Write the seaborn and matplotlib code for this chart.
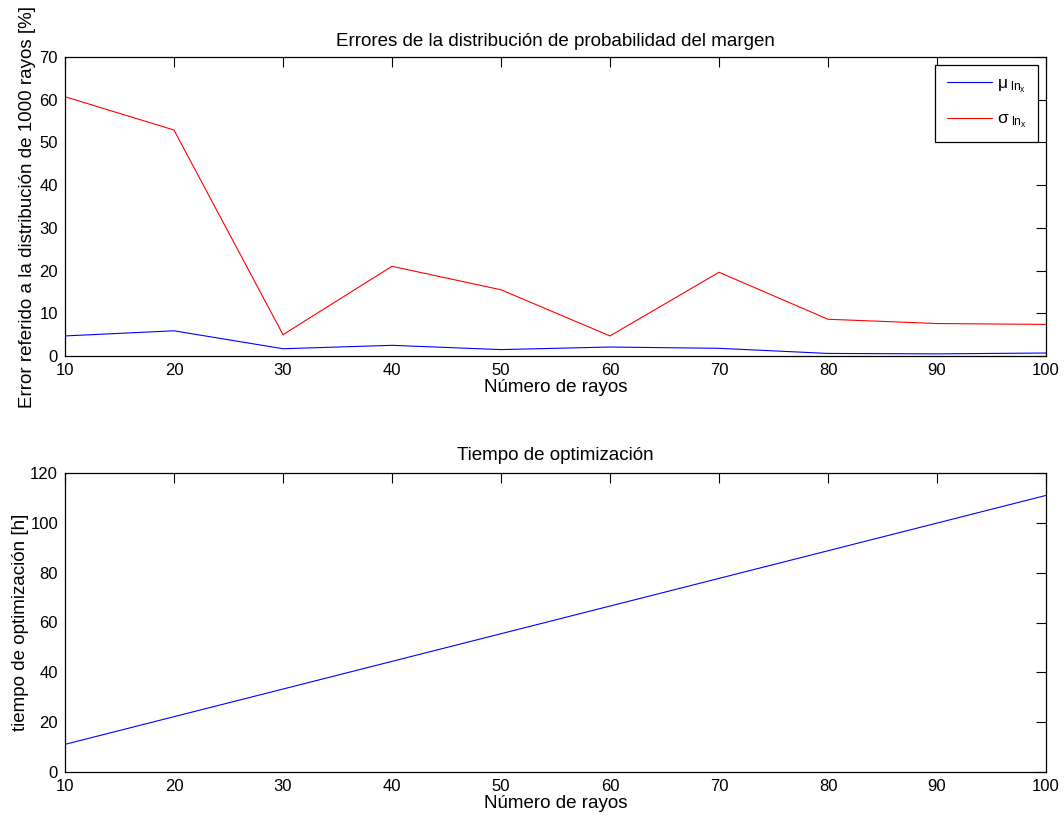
import pandas as pd
import matplotlib
matplotlib.use("Agg")
import matplotlib.pyplot as plt
import seaborn as sns

# Datos
rayos = [10, 20, 30, 40, 50, 60, 70, 80, 90, 100]
error_mu = [4.7, 5.9, 1.7, 2.5, 1.5, 2.1, 1.8, 0.6, 0.5, 0.7]
error_sigma = [60.7, 52.9, 5.0, 21.0, 15.5, 4.7, 19.6, 8.6, 7.6, 7.4]
tiempo = [11.1, 22.2, 33.3, 44.4, 55.5, 66.6, 77.7, 88.8, 99.9, 111.0]

sns.set_theme(style="white")
plt.rcParams['font.family'] = ['Liberation Sans', 'DejaVu Sans']
plt.rcParams['text.color'] = 'black'
plt.rcParams['axes.labelcolor'] = 'black'
plt.rcParams['mathtext.fontset'] = 'custom'
plt.rcParams['mathtext.rm'] = 'Liberation Sans'
plt.rcParams['mathtext.it'] = 'Liberation Sans'
plt.rcParams['mathtext.sf'] = 'Liberation Sans'

fig = plt.figure(figsize=(10.64, 8.18), dpi=100)
# posiciones en fracción de figura (px medidos en la referencia)
ax1 = fig.add_axes([65 / 1064, 1 - 356 / 818, 981 / 1064, 299 / 818])
ax2 = fig.add_axes([65 / 1064, 1 - 772 / 818, 981 / 1064, 299 / 818])

df_err = pd.DataFrame({'rayos': rayos, 'mu': error_mu, 'sigma': error_sigma})
sns.lineplot(data=df_err, x='rayos', y='mu', color='blue', lw=0.8, ax=ax1,
             label=r'$\mu_{\ \mathrm{ln}_{\mathrm{x}}}$')
sns.lineplot(data=df_err, x='rayos', y='sigma', color='red', lw=0.8, ax=ax1,
             label=r'$\sigma_{\ \mathrm{ln}_{\mathrm{x}}}$')

df_t = pd.DataFrame({'rayos': rayos, 'tiempo': tiempo})
sns.lineplot(data=df_t, x='rayos', y='tiempo', color='blue', lw=0.8, ax=ax2)

ax1.set_ylim(0, 70)
ax1.set_yticks(range(0, 71, 10))
ax2.set_ylim(0, 120)
ax2.set_yticks(range(0, 121, 20))

for ax in (ax1, ax2):
    ax.set_xlim(10, 100)
    ax.set_xticks(range(10, 101, 10))
    ax.tick_params(direction='in', top=True, right=True, length=7, width=0.8,
                   labelsize=12, colors='black', pad=5)
    for s in ax.spines.values():
        s.set_color('black')
        s.set_linewidth(0.9)
    ax.set_xlabel('Número de rayos', fontsize=13.5, labelpad=1)

ax1.set_title('Errores de la distribución de probabilidad del margen', fontsize=13.5, pad=8)
ax1.set_ylabel('Error referido a la distribución de 1000 rayos [%]', fontsize=13.5)
ax1.yaxis.set_label_coords(-0.03, 0.5)
ax2.set_title('Tiempo de optimización', fontsize=13.5, pad=9)
ax2.set_ylabel('tiempo de optimización [h]', fontsize=13.5)
ax2.yaxis.set_label_coords(-0.037, 0.5)

leg = ax1.legend(loc='upper right', bbox_to_anchor=(0.992, 0.973), fancybox=False,
                 edgecolor='black', framealpha=1, fontsize=12.5, handlelength=2.6,
                 handletextpad=0.3, borderpad=0.65, labelspacing=0.95, borderaxespad=0)
leg.get_frame().set_linewidth(0.9)

fig.savefig('out.png', dpi=100)
